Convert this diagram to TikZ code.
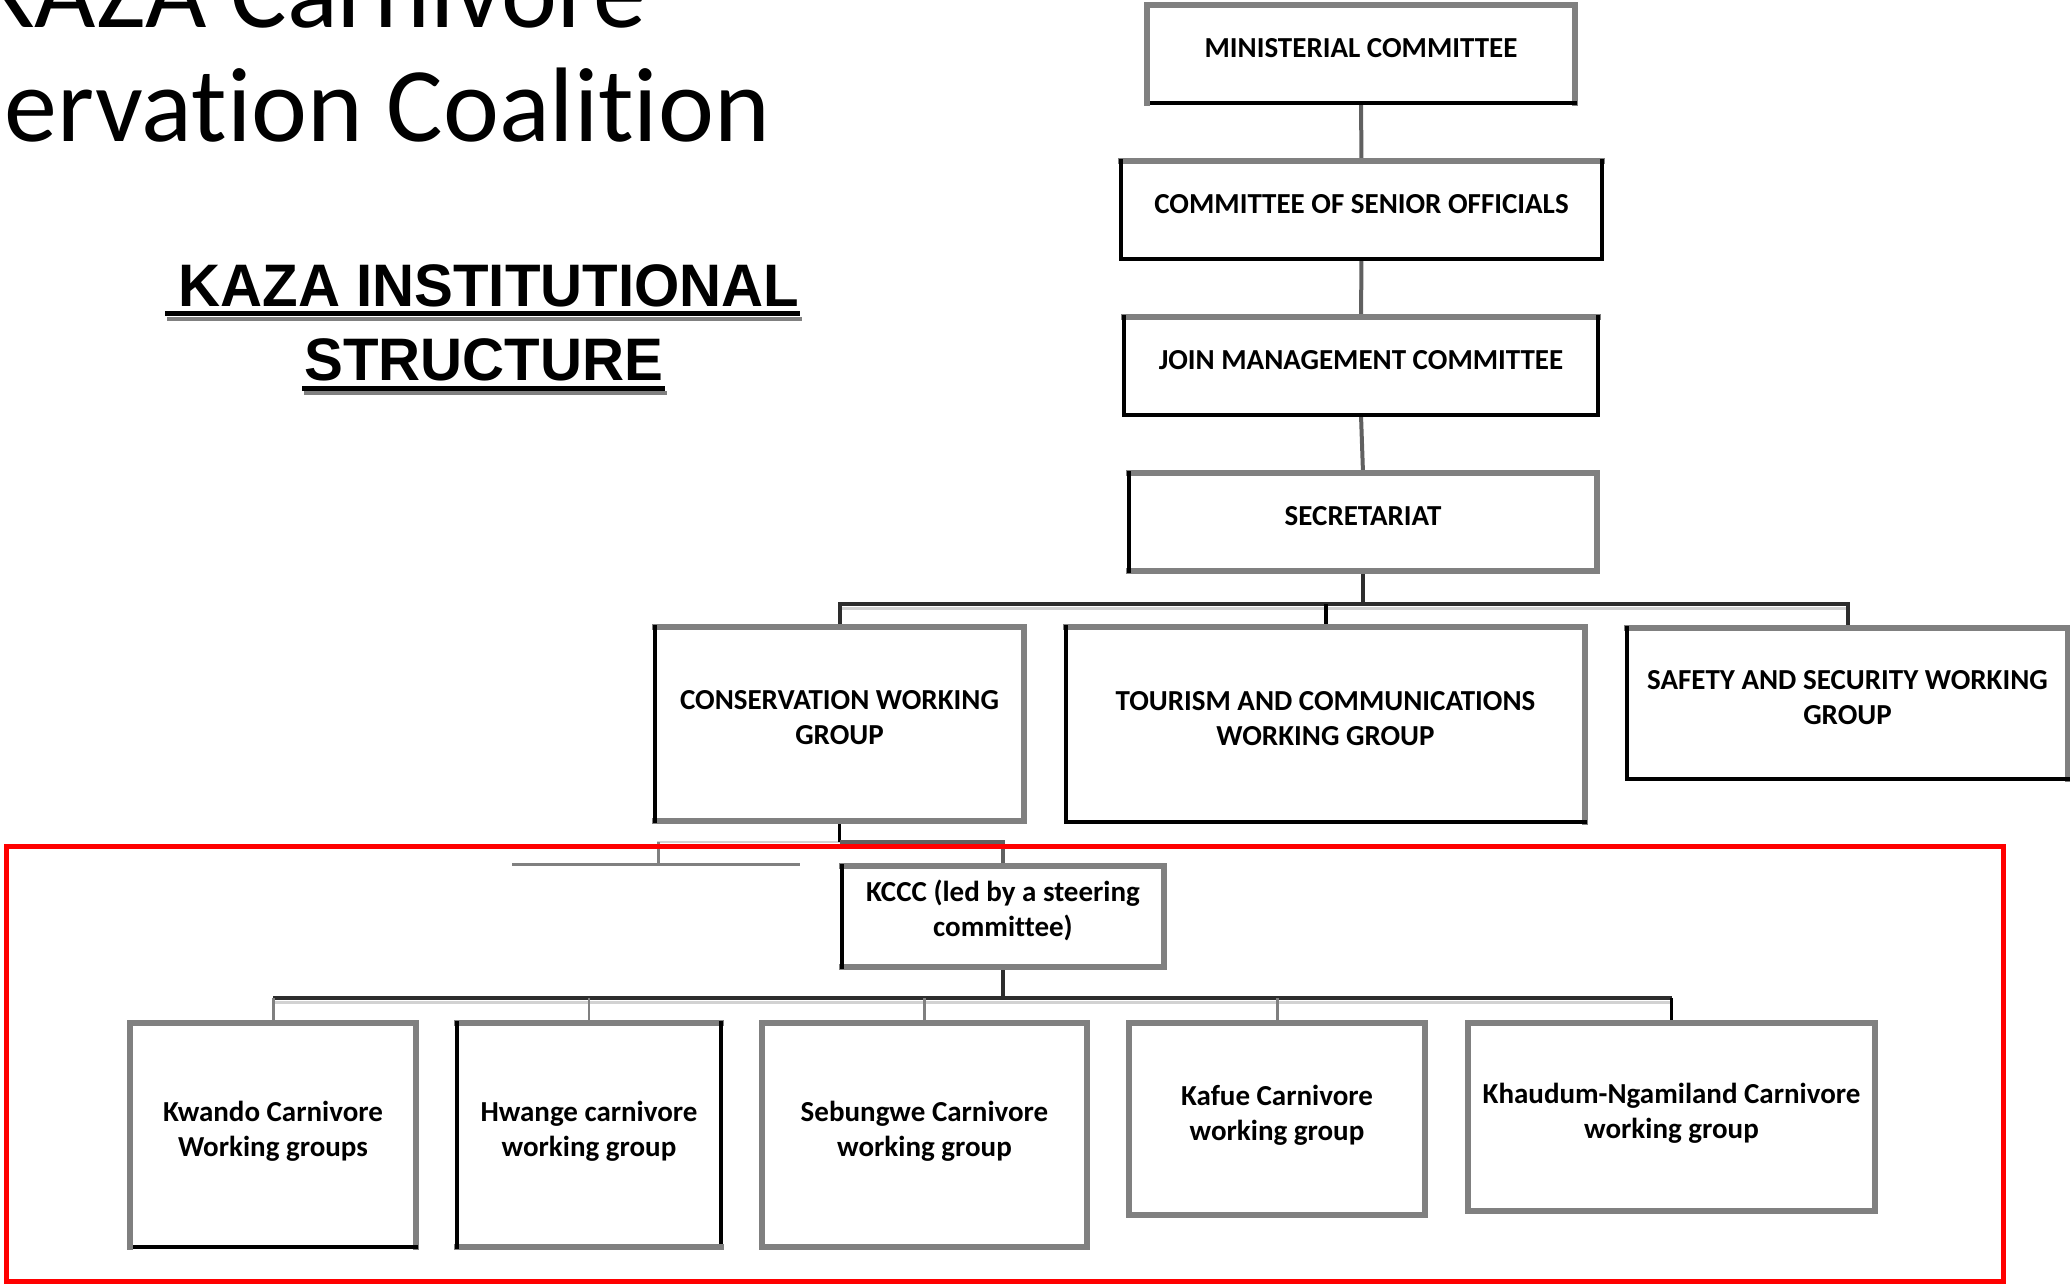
\documentclass[tikz,border=0pt]{standalone}
\usepackage{fontspec}
\setmainfont{Carlito}[Ligatures=NoCommon]
\newfontfamily\arialf{Liberation Sans}
\definecolor{bgray}{RGB}{128,128,128}
\definecolor{cdark}{RGB}{45,45,45}
\definecolor{cmid}{RGB}{96,96,96}
\definecolor{clight}{RGB}{210,210,210}
\definecolor{cred}{RGB}{255,0,0}
\newcommand\boxsides[5]{%
  \draw[#2] (#1.north west) -- (#1.north east);
  \draw[#3] (#1.north east) -- (#1.south east);
  \draw[#4] (#1.south west) -- (#1.south east);
  \draw[#5] (#1.north west) -- (#1.south west);}
\begin{document}
\begin{tikzpicture}[x=1pt,y=-1pt,
  bx/.style={inner sep=0pt, outer sep=0pt},
  lbl/.style={inner sep=0pt, outer sep=0pt, align=center, yshift=6pt,
    font=\bfseries\fontsize{29}{35}\selectfont},
  lbl2/.style={lbl, yshift=-2pt},
  g/.style={draw=bgray, line width=6pt, line cap=rect},
  k/.style={draw=black, line width=3.5pt, line cap=rect},
  drk/.style={draw=cdark, line width=4pt},
  midc/.style={draw=cmid, line width=4pt},
  lgt/.style={draw=clight, line width=3pt},
  tick/.style={draw=bgray, line width=3pt},
  ttl/.style={inner sep=0pt, outer sep=0pt, font=\fontsize{106}{114}\selectfont},
  sub/.style={inner sep=0pt, outer sep=0pt, font=\arialf\bfseries\fontsize{60}{72}\selectfont}]
\useasboundingbox (0,0) rectangle (2070,1284);
\clip (0,0) rectangle (2070,1284);

% titles
\node[ttl, anchor=base east] (t1) at (646,28) {KAZA Carnivore};
\node[ttl, anchor=base east] (t2) at (770,141.5) {ervation Coalition};
\node[sub, anchor=base] (s1) at (489,306.7) {\scalebox{0.97}[1]{KAZA INSTITUTIONAL}};
\node[sub, anchor=base] (s2) at (484,380) {\scalebox{0.97}[1]{STRUCTURE}};
\draw[bgray, line width=4pt] (167,318.5) -- (802,318.5);
\draw[black, line width=4.5pt] (165,313.5) -- (800,313.5);
\draw[bgray, line width=4pt] (304,393) -- (667,393);
\draw[black, line width=4.5pt] (302,388.5) -- (665,388.5);

% boxes
\node[bx, minimum width=428, minimum height=98, label={[lbl, name=minT]center:{MINISTERIAL COMMITTEE}}] (min) at (1361,54) {};
\node[bx, minimum width=481, minimum height=98, label={[lbl, name=csoT]center:{COMMITTEE OF SENIOR OFFICIALS}}] (cso) at (1361.5,210) {};
\node[bx, minimum width=474, minimum height=98, label={[lbl, name=jmcT]center:{JOIN MANAGEMENT COMMITTEE}}] (jmc) at (1361,366) {};
\node[bx, minimum width=468, minimum height=98, label={[lbl, name=secT]center:{SECRETARIAT}}] (sec) at (1363,522) {};
\node[bx, minimum width=369, minimum height=194, label={[lbl, name=cwgT]center:{CONSERVATION WORKING\\GROUP}}] (cwg) at (839.5,724) {};
\node[bx, minimum width=519, minimum height=195, label={[lbl, name=tourT]center:{TOURISM AND COMMUNICATIONS\\WORKING GROUP}}] (tour) at (1325.5,724.5) {};
\node[bx, minimum width=441, minimum height=151, label={[lbl, name=safT]center:{SAFETY AND SECURITY WORKING\\GROUP}}] (saf) at (1847.5,703.5) {};
\node[bx, minimum width=322, minimum height=101, label={[lbl, name=kcccT]center:{KCCC (led by a steering\\committee)}}] (kccc) at (1003,916.5) {};
\node[bx, minimum width=286, minimum height=224, label={[lbl2, name=kwT]center:{Kwando Carnivore\\Working groups}}] (kw) at (273,1135) {};
\node[bx, minimum width=264, minimum height=224, label={[lbl2, name=hwT]center:{Hwange carnivore\\working group}}] (hw) at (589,1135) {};
\node[bx, minimum width=325, minimum height=224, label={[lbl2, name=sebT]center:{Sebungwe Carnivore\\working group}}] (seb) at (924.5,1135) {};
\node[bx, minimum width=296, minimum height=192, label={[lbl2, name=kafT]center:{Kafue Carnivore\\working group}}] (kaf) at (1277,1119) {};
\node[bx, minimum width=407, minimum height=188, label={[lbl2, name=khT]center:{Khaudum-Ngamiland Carnivore\\working group}}] (kh) at (1671.5,1117) {};

% top chain connectors
\draw[midc] (min.south) -- (cso.north);
\draw[midc] (cso.south) -- (jmc.north);
\draw[midc] (jmc.south) -- (sec.north);

% first branching bar
\coordinate (b1) at (1362,604);
\draw[lgt] ([yshift=-4.5pt]cwg.north |- b1) -- ([yshift=-4.5pt]saf.north |- b1);
\draw[drk] (cwg.north) -- (cwg.north |- b1) -- (saf.north |- b1) -- (saf.north);
\draw[drk] (sec.south) -- (sec.south |- b1);
\draw[draw=black, line width=4pt] (tour.north |- b1) -- (tour.north);

% CWG to KCCC
\coordinate (b2) at (839,842);
\coordinate (l2) at (657,842);
\coordinate (st1) at (512,864);
\coordinate (st2) at (800,864);
\coordinate (st3) at (658,842);
\coordinate (st4) at (658,864);
\draw[draw=clight, line width=2.5pt] (l2) -- (cwg.south |- b2);
\draw[tick] (st1) -- (st2);
\draw[tick] (st3) -- (st4);
\draw[draw=black, line width=3.5pt] (cwg.south) -- (cwg.south |- b2);
\draw[midc] (cwg.south |- b2) -- (kccc.north |- b2) -- (kccc.north);

% second branching bar
\coordinate (b3) at (1003,998);
\draw[lgt] ([yshift=-4.5pt]kw.north |- b3) -- ([yshift=-4.5pt]kh.north |- b3);
\draw[drk] (kccc.south) -- (kccc.south |- b3);
\draw[drk] (kw.north |- b3) -- (kh.north |- b3);
\draw[tick] (kw.north |- b3) -- (kw.north);
\draw[draw=bgray, line width=2.5pt] (hw.north |- b3) -- (hw.north);
\draw[tick] (seb.north |- b3) -- (seb.north);
\draw[tick] (kaf.north |- b3) -- (kaf.north);
\draw[draw=black, line width=2.5pt] (kh.north |- b3) -- (kh.north);

% box borders (top, right, bottom, left)
\boxsides{min}{g}{g}{k}{g}
\boxsides{cso}{g}{k}{k}{k}
\boxsides{jmc}{g}{k}{k}{k}
\boxsides{sec}{g}{g}{g}{k}
\boxsides{cwg}{g}{g}{g}{k}
\boxsides{tour}{g}{g}{k}{k}
\boxsides{saf}{g}{g}{k}{k}
\boxsides{kccc}{g}{g}{g}{k}
\boxsides{kw}{g}{g}{k}{g}
\boxsides{hw}{g}{k}{g}{k}
\boxsides{seb}{g}{g}{g}{g}
\boxsides{kaf}{g}{g}{g}{g}
\boxsides{kh}{g}{g}{g}{g}

% red frame
\draw[draw=cred, line width=5pt] (6,846.5) rectangle (2003,1281);
\end{tikzpicture}
\end{document}
